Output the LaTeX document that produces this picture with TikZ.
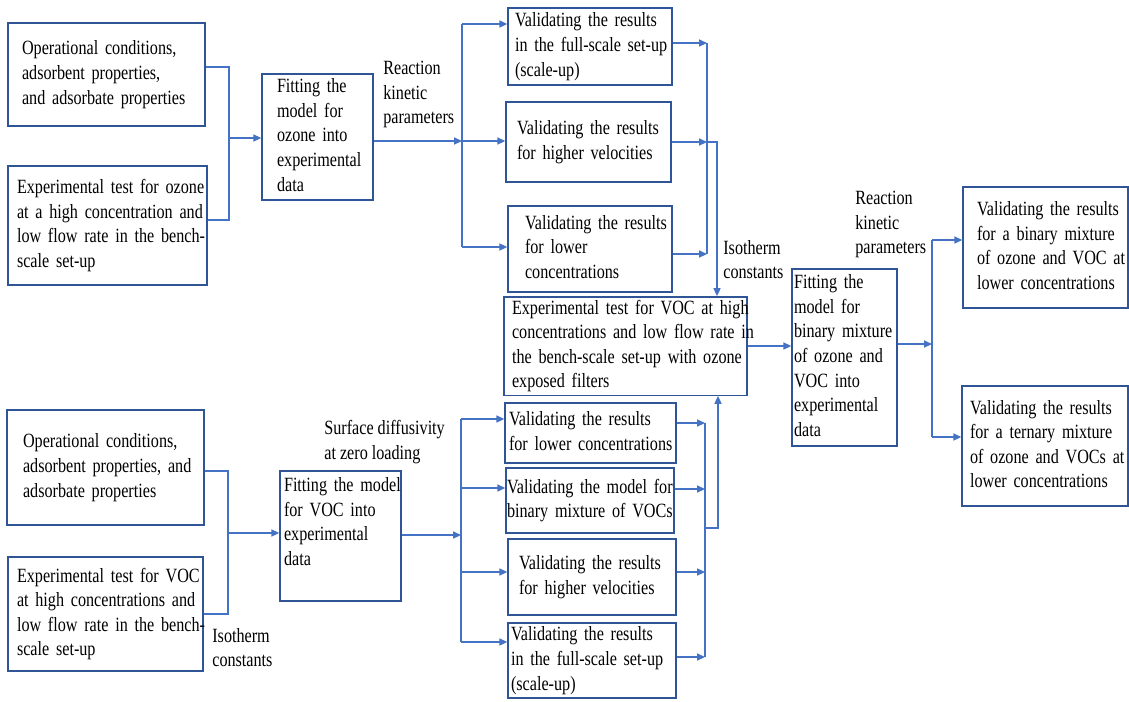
\documentclass[tikz,border=0pt]{standalone}
\usepackage{fontspec}
\setmainfont{Liberation Serif}[FakeStretch=0.8]
\usetikzlibrary{arrows.meta}
\definecolor{boxblue}{RGB}{47,85,151}
\definecolor{lineblue}{RGB}{68,114,196}
\tikzset{
    box/.style={draw=boxblue,line width=0.8pt,align=left,inner ysep=0pt,font=\fontsize{11.5}{14}\selectfont},
    lbl/.style={align=left,inner sep=0pt,anchor=north west,font=\fontsize{11.5}{14}\selectfont},
    link/.style={draw=lineblue,line width=0.8pt},
    arr/.style={link,-{Triangle[length=4.5pt,width=4pt]}}
}
\begin{document}
\begin{tikzpicture}[x=0.02cm,y=-0.02cm]
    \useasboundingbox (0,0) rectangle (1129,701);

    \node[box,minimum width=3.94cm,minimum height=2.06cm,inner xsep=0.28cm,text width=3.38cm] (opzone) at (106.5,74.5) {\begin{tabular}{@{}l@{}}Operational conditions,\\adsorbent properties,\\and adsorbate properties\end{tabular}};
    \node[box,minimum width=3.98cm,minimum height=2.38cm,inner xsep=0.18cm,text width=3.62cm] (expzone) at (107.5,225.5) {\begin{tabular}{@{}l@{}}Experimental test for ozone\\at a high concentration and\\low flow rate in the bench-\\scale set-up\end{tabular}};
    \node[box,minimum width=2.22cm,minimum height=2.52cm,inner xsep=0.30cm,text width=1.62cm] (fitozone) at (317.5,137) {\begin{tabular}{@{}l@{}}Fitting the\\model for\\ozone into\\experimental\\data\end{tabular}};

    \node[box,minimum width=3.28cm,minimum height=1.54cm,inner xsep=0.14cm,text width=3.00cm] (valfull) at (590,46.5) {\begin{tabular}{@{}l@{}}Validating the results\\in the full-scale set-up\\(scale-up)\end{tabular}};
    \node[box,minimum width=3.30cm,minimum height=1.60cm,inner xsep=0.22cm,text width=2.86cm] (valvel) at (588.5,142) {\begin{tabular}{@{}l@{}}Validating the results\\for higher velocities\end{tabular}};
    \node[box,minimum width=3.28cm,minimum height=1.72cm,inner xsep=0.34cm,text width=2.60cm] (vallow) at (590,249) {\begin{tabular}{@{}l@{}}Validating the results\\for lower\\concentrations\end{tabular}};

    \node[box,minimum width=4.86cm,minimum height=1.96cm,inner xsep=0.16cm,text width=4.54cm] (expvoc) at (625.5,346) {\begin{tabular}{@{}l@{}}Experimental test for VOC at high\\concentrations and low flow rate in\\the bench-scale set-up with ozone\\exposed filters\end{tabular}};
    \node[box,minimum width=2.10cm,minimum height=3.54cm,inner xsep=0.04cm,text width=2.02cm] (fitmix) at (844.5,357.5) {\begin{tabular}{@{}l@{}}Fitting the\\model for\\binary mixture\\of ozone and\\VOC into\\experimental\\data\end{tabular}};
    \node[box,minimum width=3.30cm,minimum height=2.42cm,inner xsep=0.28cm,text width=2.74cm] (valbin) at (1045.5,247.5) {\begin{tabular}{@{}l@{}}Validating the results\\for a binary mixture\\of ozone and VOC at\\lower concentrations\end{tabular}};
    \node[box,minimum width=3.32cm,minimum height=2.40cm,inner xsep=0.16cm,text width=3.00cm] (valter) at (1045,446) {\begin{tabular}{@{}l@{}}Validating the results\\for a ternary mixture\\of ozone and VOCs at\\lower concentrations\end{tabular}};

    \node[box,minimum width=3.94cm,minimum height=2.30cm,inner xsep=0.32cm,text width=3.30cm] (opvoc) at (105.5,467.5) {\begin{tabular}{@{}l@{}}Operational conditions,\\adsorbent properties, and\\adsorbate properties\end{tabular}};
    \node[box,minimum width=3.90cm,minimum height=2.28cm,inner xsep=0.18cm,text width=3.54cm] (expvochi) at (105.5,614) {\begin{tabular}{@{}l@{}}Experimental test for VOC\\at high concentrations and\\low flow rate in the bench-\\scale set-up\end{tabular}};
    \node[box,minimum width=2.42cm,minimum height=2.60cm,inner xsep=0.08cm,text width=2.26cm] (fitvoc) at (340.5,536) {\begin{tabular}{@{}l@{}}Fitting the model\\for VOC into\\experimental\\data\\\mbox{}\end{tabular}};

    \node[box,minimum width=3.42cm,minimum height=1.20cm,inner xsep=0.08cm,text width=3.26cm] (wlow) at (590.5,433) {\begin{tabular}{@{}l@{}}Validating the results\\for lower concentrations\end{tabular}};
    \node[box,minimum width=3.36cm,minimum height=1.30cm,inner xsep=0.02cm,text width=3.32cm] (wbin) at (590,500.5) {\begin{tabular}{@{}l@{}}Validating the model for\\binary mixture of VOCs\end{tabular}};
    \node[box,minimum width=3.36cm,minimum height=1.52cm,inner xsep=0.22cm,text width=2.92cm] (wvel) at (592,577) {\begin{tabular}{@{}l@{}}Validating the results\\for higher velocities\end{tabular}};
    \node[box,minimum width=3.36cm,minimum height=1.50cm,inner xsep=0.06cm,text width=3.24cm] (wfull) at (592,660.5) {\begin{tabular}{@{}l@{}}Validating the results\\in the full-scale set-up\\(scale-up)\end{tabular}};

    \node[lbl] (kinozone) at (383,61) {Reaction\\kinetic\\parameters};
    \node[lbl] (isozone) at (723,240) {Isotherm\\constants};
    \node[lbl] (kinmix) at (855,191) {Reaction\\kinetic\\parameters};
    \node[lbl] (diffvoc) at (324,420) {Surface diffusivity\\at zero loading};
    \node[lbl] (isovoc) at (212,628) {Isotherm\\constants};

    \coordinate (ja) at (229,138);
    \draw[link] ([yshift=0.15cm]opzone.east) -| (ja);
    \draw[link] ([yshift=0.11cm]expzone.east) -| (ja);
    \draw[arr] (ja) -- (fitozone.west |- ja);

    \coordinate (jb) at (462,141);
    \coordinate (jb1) at (462,24);
    \coordinate (jb3) at (462,247);
    \draw[arr] (fitozone.east |- jb) -- (jb);
    \draw[link] (jb1) -- (jb3);
    \draw[arr] (jb1) -- (valfull.west |- jb1);
    \draw[arr] (jb) -- (valvel.west |- jb);
    \draw[arr] (jb3) -- (vallow.west |- jb3);

    \coordinate (jc) at (707,142);
    \coordinate (jc1) at (707,43);
    \coordinate (jc3) at (707,254);
    \coordinate (jcd) at (717,142);
    \draw[arr] (valfull.east |- jc1) -- (jc1);
    \draw[arr] (valvel.east |- jc) -- (jc);
    \draw[arr] (vallow.east |- jc3) -- (jc3);
    \draw[link] (jc1) -- (jc3);
    \draw[arr] (jc) -| (expvoc.north -| jcd);

    \draw[arr] (expvoc.east) -- (fitmix.west |- expvoc.east);

    \coordinate (jd) at (932,344);
    \coordinate (jd1) at (932,240);
    \coordinate (jd2) at (932,437);
    \draw[arr] (fitmix.east |- jd) -- (jd);
    \draw[link] (jd1) -- (jd2);
    \draw[arr] (jd1) -- (valbin.west |- jd1);
    \draw[arr] (jd2) -- (valter.west |- jd2);

    \coordinate (je) at (228,533);
    \draw[link] ([yshift=-0.07cm]opvoc.east) -| (je);
    \draw[link] (expvochi.east) -| (je);
    \draw[arr] (je) -- (fitvoc.west |- je);

    \coordinate (jf) at (461,535);
    \coordinate (jf1) at (461,419);
    \coordinate (jf2) at (461,488);
    \coordinate (jf3) at (461,572);
    \coordinate (jf4) at (461,642);
    \draw[arr] (fitvoc.east |- jf) -- (jf);
    \draw[link] (jf1) -- (jf4);
    \draw[arr] (jf1) -- (wlow.west |- jf1);
    \draw[arr] (jf2) -- (wbin.west |- jf2);
    \draw[arr] (jf3) -- (wvel.west |- jf3);
    \draw[arr] (jf4) -- (wfull.west |- jf4);

    \coordinate (jg) at (705,528);
    \coordinate (jg1) at (705,423);
    \coordinate (jg2) at (705,489);
    \coordinate (jg3) at (705,572);
    \coordinate (jg4) at (705,657);
    \coordinate (jgu) at (718,528);
    \draw[arr] (wlow.east |- jg1) -- (jg1);
    \draw[arr] (wbin.east |- jg2) -- (jg2);
    \draw[arr] (wvel.east |- jg3) -- (jg3);
    \draw[arr] (wfull.east |- jg4) -- (jg4);
    \draw[link] (jg1) -- (jg4);
    \draw[arr] (jg) -| (expvoc.south -| jgu);
\end{tikzpicture}
\end{document}
